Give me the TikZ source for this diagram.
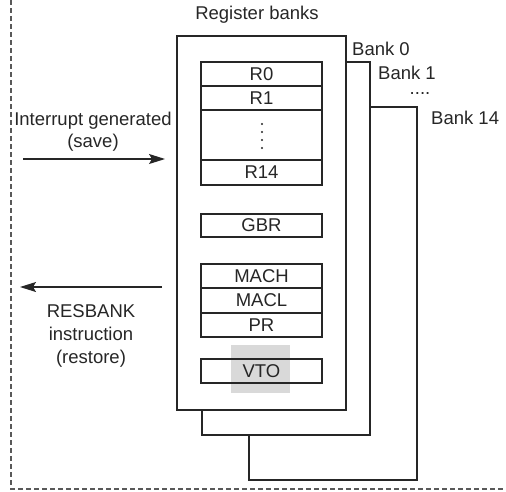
\documentclass[tikz,border=0pt]{standalone}
\usepackage{fontspec}
\setmainfont{Liberation Sans}
\usetikzlibrary{arrows.meta}
\begin{document}
\begin{tikzpicture}[x=1pt,y=-1pt,
  every node/.style={font=\fontsize{18.5}{22}\selectfont, text=black!85},
  bankbox/.style={draw=black!85, line width=2.3pt, fill=white, rectangle, inner sep=0pt},
  regbox/.style={draw=black!85, line width=2.3pt, fill=white, rectangle, inner sep=0pt, minimum width=121pt},
  arr/.style={line width=1.2pt, draw=black!85, -{Stealth[length=16pt,width=10pt,inset=3pt]}},
  frame/.style={line width=1.2pt, draw=black!65, dash pattern=on 4.5pt off 3.5pt}
]
\useasboundingbox (0,0) rectangle (506,491);
% frame
\draw[frame] (11,0) -- (11,489) -- (506,489);
% banks
\node[bankbox, minimum width=168pt, minimum height=373pt] (b14) at (333,293.5) {};
\node[bankbox, minimum width=168pt, minimum height=373pt] (b1) at (286,248.5) {};
\node[bankbox, minimum width=169pt, minimum height=374pt] (b0) at (261.5,223) {};
% registers
\node[regbox, minimum height=24pt] (r0) at (261.5,74) {R0};
\node[regbox, minimum height=24pt] (r1) at (261.5,98) {R1};
\node[regbox, minimum height=50pt] (rd) at (261.5,135) {};
\node[regbox, minimum height=25pt] (r14) at (261.5,172.5) {R14};
\foreach \yy in {124,132,140,148} \fill[black!85] (262,\yy) circle (1.1pt);
\node[regbox, minimum height=23pt] (gbr) at (261.5,225.5) {GBR};
\node[regbox, minimum height=24pt] (mach) at (261.5,276) {MACH};
\node[regbox, minimum height=25pt] (macl) at (261.5,300.5) {MACL};
\node[regbox, minimum height=24pt] (pr) at (261.5,325) {PR};
\fill[black!15] (231,345) rectangle (290,393);
\node[regbox, minimum height=24pt, fill=none] (vto) at (261.5,371) {VTO};
% labels
\node (title) at (257,15) {Register banks};
\node[anchor=west, inner sep=0pt] (l0) at (352,49) {Bank 0};
\node[anchor=west, inner sep=0pt] (l1) at (378,73) {Bank 1};
\node[anchor=base, inner sep=0pt, text height=3pt, text depth=0pt] (ldots) at (420,94) {....};
\node[anchor=west, inner sep=0pt] (l14) at (431,118) {Bank 14};
\node[align=center, inner sep=0pt] (save) at (93,132) {Interrupt generated\\(save)};
\node[align=center, inner sep=0pt, font=\fontsize{18.5}{23}\selectfont] (rest) at (91,336) {RESBANK\\instruction\\(restore)};
% arrows
\coordinate (s0) at (23,159);
\coordinate (s1) at (165,159);
\coordinate (t0) at (162,287);
\coordinate (t1) at (20,287);
\draw[arr] (s0) -- (s1);
\draw[arr] (t0) -- (t1);
\end{tikzpicture}
\end{document}
